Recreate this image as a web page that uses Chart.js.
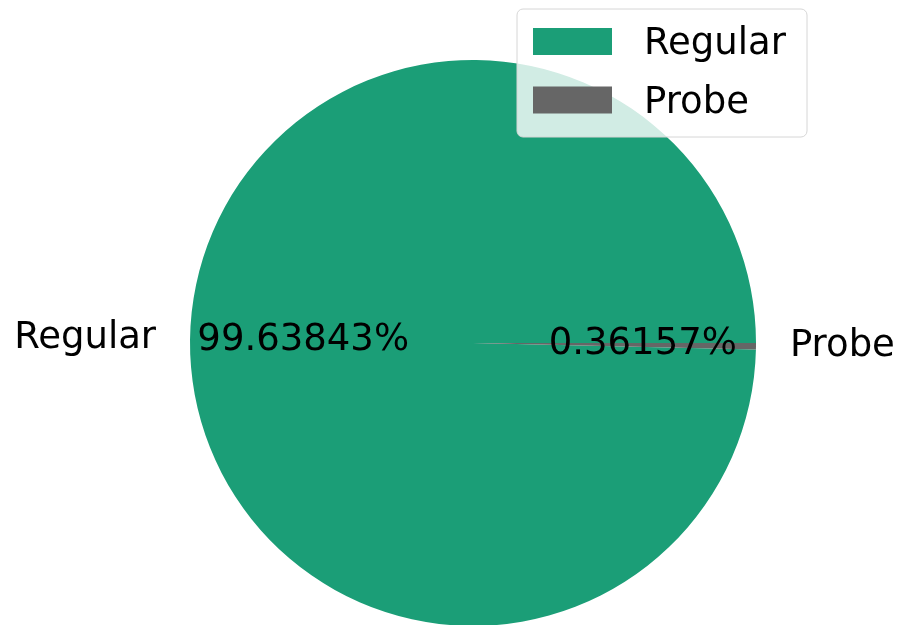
<!DOCTYPE html>
<html>
<head>
<meta charset="utf-8">
<script src="https://cdn.jsdelivr.net/npm/chart.js@4/dist/chart.umd.min.js"></script>
<style>
  html, body { margin: 0; padding: 0; background: #ffffff; overflow: hidden; }
  #wrap { width: 900px; height: 625px; overflow: hidden; }
  canvas { display: block; }
</style>
</head>
<body>
<div id="wrap"><canvas id="pie" width="900" height="700"></canvas></div>
<script>
// Packet share by type
const categories = ["Regular", "Probe"];
const shares = [99.63843, 0.36157];
const percentLabels = ["99.63843%", "0.36157%"];
const sliceColors = ["#1b9e77", "#666666"];

const FONT = "37px 'DejaVu Sans', sans-serif";

function drawText(ctx, text, x, y, align) {
  ctx.save();
  ctx.font = FONT;
  ctx.fillStyle = "#000000";
  ctx.textBaseline = "alphabetic";
  ctx.textAlign = align;
  ctx.fillText(text, x, y);
  ctx.restore();
}

// Category names outside the pie and percentages inside each wedge
const sliceLabels = {
  id: "sliceLabels",
  afterDatasetsDraw(chart) {
    const ctx = chart.ctx;
    const meta = chart.getDatasetMeta(0);
    meta.data.forEach((arc, i) => {
      const mid = (arc.startAngle + arc.endAngle) / 2;
      const r = arc.outerRadius;
      const c = Math.cos(mid), s = Math.sin(mid);
      const lx = arc.x + 1.12 * r * c, ly = arc.y + 1.1 * r * s;
      drawText(ctx, categories[i], lx, ly + 9, c < 0 ? "right" : "left");
      const px = arc.x + 0.6 * r * c, py = arc.y + 0.6 * r * s;
      drawText(ctx, percentLabels[i], px, py + 9, "center");
    });
  }
};

// Framed legend in the upper right
const boxLegend = {
  id: "boxLegend",
  afterDraw(chart) {
    const ctx = chart.ctx;
    const x = 517, y = 9, w = 290, h = 128, rad = 6;
    ctx.save();
    ctx.beginPath();
    ctx.roundRect(x, y, w, h, rad);
    ctx.fillStyle = "rgba(255,255,255,0.8)";
    ctx.fill();
    ctx.strokeStyle = "#d6d6d6";
    ctx.lineWidth = 1;
    ctx.stroke();
    categories.forEach((name, i) => {
      const top = 28 + i * 58.5;
      ctx.fillStyle = sliceColors[i];
      ctx.fillRect(533, top, 79, 27);
      drawText(ctx, name, 644, top + 26, "left");
    });
    ctx.restore();
  }
};

const total = shares.reduce((a, b) => a + b, 0);

new Chart(document.getElementById("pie"), {
  type: "pie",
  data: {
    labels: categories,
    datasets: [{
      data: shares,
      backgroundColor: sliceColors,
      borderWidth: 0,
      hoverOffset: 0
    }]
  },
  options: {
    responsive: false,
    animation: false,
    // first wedge runs counter-clockwise from the 3 o'clock position
    rotation: 90 + 360 * shares[1] / total,
    layout: { padding: { left: 190, right: 144, top: 60, bottom: 74 } },
    plugins: {
      legend: { display: false },
      tooltip: { enabled: false }
    }
  },
  plugins: [sliceLabels, boxLegend]
});
</script>
</body>
</html>
